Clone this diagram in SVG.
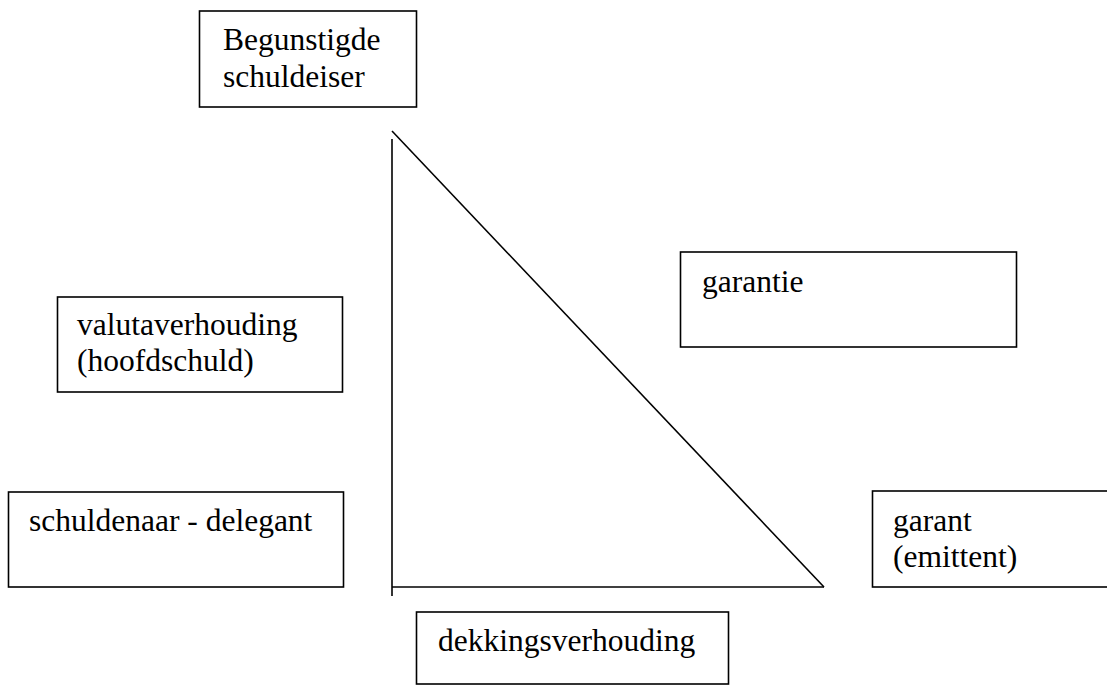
<svg xmlns="http://www.w3.org/2000/svg" width="1107" height="686" viewBox="0 0 1107 686">
  <style>
    .box { fill: #ffffff; stroke: #000000; stroke-width: 1.6; }
    .lbl { font-family: "Liberation Serif", "Times New Roman", serif; font-size: 31.5px; fill: #000000; }
    .edge { fill: none; stroke: #000000; stroke-width: 1.6; }
  </style>
  <rect width="1107" height="686" fill="#ffffff"/>

  <!-- triangle of relationships -->
  <g id="connectors">
    <line class="edge" x1="392" y1="139" x2="392" y2="596"/>
    <line class="edge" x1="392" y1="587" x2="824" y2="587"/>
    <line class="edge" x1="392" y1="131" x2="824" y2="587"/>
  </g>

  <g id="begunstigde">
    <rect class="box" x="199.5" y="11" width="217" height="96"/>
    <text class="lbl" x="223" y="50">Begunstigde</text>
    <text class="lbl" x="223" y="87">schuldeiser</text>
  </g>

  <g id="garantie">
    <rect class="box" x="680.5" y="252" width="336" height="95"/>
    <text class="lbl" x="702" y="292">garantie</text>
  </g>

  <g id="valutaverhouding">
    <rect class="box" x="57.5" y="297" width="285" height="95"/>
    <text class="lbl" x="77" y="335">valutaverhouding</text>
    <text class="lbl" x="77" y="371">(hoofdschuld)</text>
  </g>

  <g id="schuldenaar">
    <rect class="box" x="8.5" y="492" width="335" height="95"/>
    <text class="lbl" x="29" y="531">schuldenaar - delegant</text>
  </g>

  <g id="garant">
    <rect class="box" x="872.5" y="491" width="260" height="96"/>
    <text class="lbl" x="893" y="531">garant</text>
    <text class="lbl" x="893" y="567">(emittent)</text>
  </g>

  <g id="dekkingsverhouding">
    <rect class="box" x="416.5" y="612" width="312" height="72"/>
    <text class="lbl" x="438" y="651">dekkingsverhouding</text>
  </g>
</svg>
